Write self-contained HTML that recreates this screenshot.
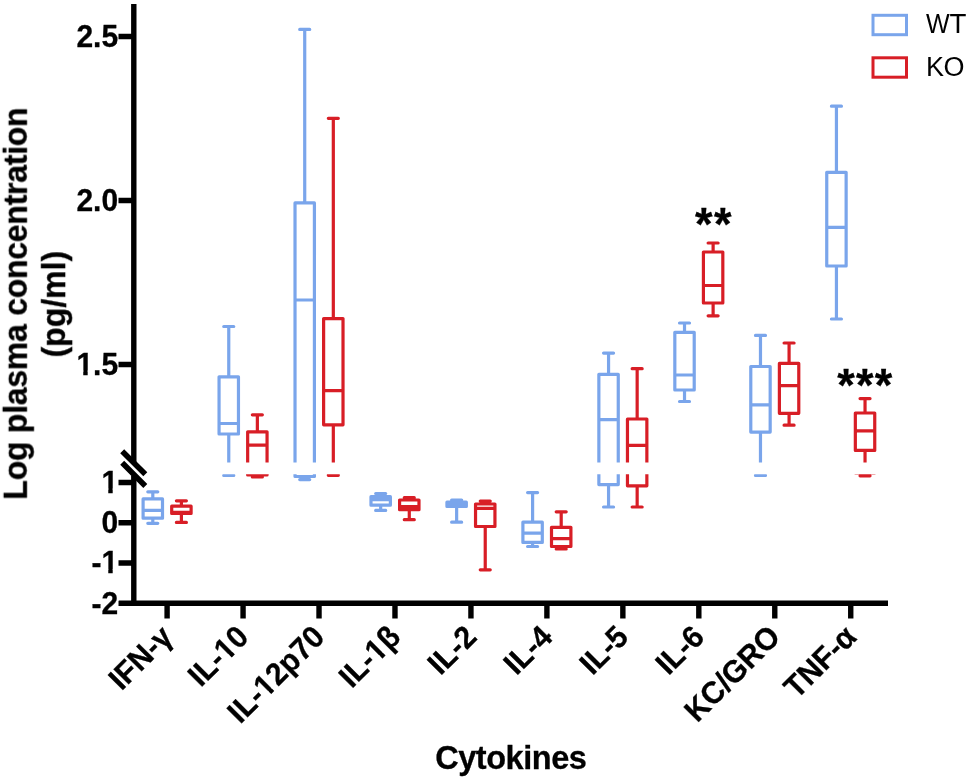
<!DOCTYPE html>
<html><head><meta charset="utf-8"><title>Cytokines</title><style>
html,body{margin:0;padding:0;background:#fff;}
svg{display:block;}
text{font-family:"Liberation Sans",sans-serif;font-kerning:none;}
text.b{font-weight:bold;stroke:#000;stroke-width:0.3px;}
text.r{font-weight:normal;}
</style></head><body>
<svg width="968" height="780" viewBox="0 0 968 780">
<defs>
<clipPath id="cu"><rect x="134" y="0" width="834" height="462.5"/></clipPath>
<clipPath id="cl"><rect x="134" y="474.2" width="834" height="130"/></clipPath>
</defs>
<rect width="968" height="780" fill="#fff"/>
<g fill="none" stroke-width="3.2" stroke-linecap="round" stroke-linejoin="round">
<g clip-path="url(#cu)"><path d="M152.80 605.01V662.79M152.80 819.87V861.38M147.80 605.01H157.80M147.80 861.38H157.80M143.10 755.58H162.50M143.10 662.79H162.50V819.87H143.10ZM228.76 326.50V376.80M228.76 434.00V472.34M223.76 326.50H233.76M223.76 472.34H233.76M219.06 423.50H238.46M219.06 376.80H238.46V434.00H219.06ZM304.72 29.40V202.90M304.72 480.48V505.71M299.72 29.40H309.72M299.72 505.71H309.72M295.02 300.00H314.42M295.02 202.90H314.42V480.48H295.02ZM380.68 618.84V644.89M380.68 714.07V756.39M375.68 618.84H385.68M375.68 756.39H385.68M370.98 668.49H390.38M370.98 644.89H390.38V714.07H370.98ZM456.64 671.75V689.65M456.64 723.83V852.43M451.64 671.75H461.64M451.64 852.43H461.64M446.94 706.74H466.34M446.94 689.65H466.34V723.83H446.94ZM532.60 611.52V852.43M532.60 1016.84V1050.21M527.60 611.52H537.60M527.60 1050.21H537.60M522.90 941.15H542.30M522.90 852.43H542.30V1016.84H522.90ZM608.56 353.10V374.30M608.56 546.41V728.72M603.56 353.10H613.56M603.56 728.72H613.56M598.86 419.70H618.26M598.86 374.30H618.26V546.41H598.86ZM684.52 323.00V332.30M684.52 390.00V401.50M679.52 323.00H689.52M679.52 401.50H689.52M674.82 375.00H694.22M674.82 332.30H694.22V390.00H674.82ZM760.48 335.40V366.50M760.48 432.10V472.34M755.48 335.40H765.48M755.48 472.34H765.48M750.78 404.80H770.18M750.78 366.50H770.18V432.10H750.78ZM836.44 106.20V172.30M836.44 266.00V319.00M831.44 106.20H841.44M831.44 319.00H841.44M826.74 227.30H846.14M826.74 172.30H846.14V266.00H826.74Z" stroke="#7AA5EB"/><path d="M181.40 678.26V722.21M181.40 780.81V854.06M176.40 678.26H186.40M176.40 854.06H186.40M171.70 771.85H191.10M171.70 722.21H191.10V780.81H171.70ZM257.36 414.80V431.80M257.36 468.27V484.55M252.36 414.80H262.36M252.36 484.55H262.36M247.66 445.20H267.06M247.66 431.80H267.06V468.27H247.66ZM333.32 118.30V318.60M333.32 424.80V470.71M328.32 118.30H338.32M328.32 470.71H338.32M323.62 390.60H343.02M323.62 318.60H343.02V424.80H323.62ZM409.28 653.03V671.75M409.28 750.69V832.08M404.28 653.03H414.28M404.28 832.08H414.28M399.58 725.46H418.98M399.58 671.75H418.98V750.69H399.58ZM485.24 679.88V704.30M485.24 887.43V1239.84M480.24 679.88H490.24M480.24 1239.84H490.24M475.54 740.11H494.94M475.54 704.30H494.94V887.43H475.54ZM561.20 767.79V893.94M561.20 1050.21V1070.55M556.20 767.79H566.20M556.20 1070.55H566.20M551.50 986.72H570.90M551.50 893.94H570.90V1050.21H551.50ZM637.16 368.70V419.00M637.16 556.17V728.72M632.16 368.70H642.16M632.16 728.72H642.16M627.46 445.40H646.86M627.46 419.00H646.86V556.17H627.46ZM713.12 243.00V252.00M713.12 303.00V315.80M708.12 243.00H718.12M708.12 315.80H718.12M703.42 285.50H722.82M703.42 252.00H722.82V303.00H703.42ZM789.08 343.00V363.40M789.08 413.30V425.20M784.08 343.00H794.08M784.08 425.20H794.08M779.38 385.60H798.78M779.38 363.40H798.78V413.30H779.38ZM865.04 398.60V413.00M865.04 450.40V474.78M860.04 398.60H870.04M860.04 474.78H870.04M855.34 430.80H874.74M855.34 413.00H874.74V450.40H855.34Z" stroke="#D81E26"/></g>
<g clip-path="url(#cl)"><path d="M152.80 491.80V498.90M152.80 518.20V523.30M147.80 491.80H157.80M147.80 523.30H157.80M143.10 510.30H162.50M143.10 498.90H162.50V518.20H143.10ZM228.76 457.58V463.76M228.76 470.79V475.50M223.76 457.58H233.76M223.76 475.50H233.76M219.06 469.50H238.46M219.06 463.76H238.46V470.79H219.06ZM304.72 421.08V442.39M304.72 476.50V479.60M299.72 421.08H309.72M299.72 479.60H309.72M295.02 454.33H314.42M295.02 442.39H314.42V476.50H295.02ZM380.68 493.50V496.70M380.68 505.20V510.40M375.68 493.50H385.68M375.68 510.40H385.68M370.98 499.60H390.38M370.98 496.70H390.38V505.20H370.98ZM456.64 500.00V502.20M456.64 506.40V522.20M451.64 500.00H461.64M451.64 522.20H461.64M446.94 504.30H466.34M446.94 502.20H466.34V506.40H446.94ZM532.60 492.60V522.20M532.60 542.40V546.50M527.60 492.60H537.60M527.60 546.50H537.60M522.90 533.10H542.30M522.90 522.20H542.30V542.40H522.90ZM608.56 460.85V463.45M608.56 484.60V507.00M603.56 460.85H613.56M603.56 507.00H613.56M598.86 469.03H618.26M598.86 463.45H618.26V484.60H598.86ZM684.52 457.15V458.29M684.52 465.38V466.80M679.52 457.15H689.52M679.52 466.80H689.52M674.82 463.54H694.22M674.82 458.29H694.22V465.38H674.82ZM760.48 458.67V462.50M760.48 470.56V475.50M755.48 458.67H765.48M755.48 475.50H765.48M750.78 467.20H770.18M750.78 462.50H770.18V470.56H750.78ZM836.44 430.51V438.64M836.44 450.15V456.66M831.44 430.51H841.44M831.44 456.66H841.44M826.74 445.39H846.14M826.74 438.64H846.14V450.15H826.74Z" stroke="#7AA5EB"/><path d="M181.40 500.80V506.20M181.40 513.40V522.40M176.40 500.80H186.40M176.40 522.40H186.40M171.70 512.30H191.10M171.70 506.20H191.10V513.40H171.70ZM257.36 468.43V470.52M257.36 475.00V477.00M252.36 468.43H262.36M252.36 477.00H262.36M247.66 472.17H267.06M247.66 470.52H267.06V475.00H247.66ZM333.32 432.00V456.61M333.32 469.66V475.30M328.32 432.00H338.32M328.32 475.30H338.32M323.62 465.46H343.02M323.62 456.61H343.02V469.66H323.62ZM409.28 497.70V500.00M409.28 509.70V519.70M404.28 497.70H414.28M404.28 519.70H414.28M399.58 506.60H418.98M399.58 500.00H418.98V509.70H399.58ZM485.24 501.00V504.00M485.24 526.50V569.80M480.24 501.00H490.24M480.24 569.80H490.24M475.54 508.40H494.94M475.54 504.00H494.94V526.50H475.54ZM561.20 511.80V527.30M561.20 546.50V549.00M556.20 511.80H566.20M556.20 549.00H566.20M551.50 538.70H570.90M551.50 527.30H570.90V546.50H551.50ZM637.16 462.77V468.95M637.16 485.80V507.00M632.16 462.77H642.16M632.16 507.00H642.16M627.46 472.19H646.86M627.46 468.95H646.86V485.80H627.46ZM713.12 447.32V448.43M713.12 454.69V456.27M708.12 447.32H718.12M708.12 456.27H718.12M703.42 452.54H722.82M703.42 448.43H722.82V454.69H703.42ZM789.08 459.61V462.11M789.08 468.25V469.71M784.08 459.61H794.08M784.08 469.71H794.08M779.38 464.84H798.78M779.38 462.11H798.78V468.25H779.38ZM865.04 466.44V468.21M865.04 472.80V475.80M860.04 466.44H870.04M860.04 475.80H870.04M855.34 470.40H874.74M855.34 468.21H874.74V472.80H855.34Z" stroke="#D81E26"/></g>
</g>
<g stroke="#000" stroke-width="5.4" fill="none">
<path d="M133.8 4V462M133.8 476V603M119 603.3H888M118.5 36.5H134M118.5 200.5H134M118.5 364.5H134M118.5 482.5H134M118.5 522.7H134M118.5 563H134M118.5 603.4H134M167.10 603V618.5M243.06 603V618.5M319.02 603V618.5M394.98 603V618.5M470.94 603V618.5M546.90 603V618.5M622.86 603V618.5M698.82 603V618.5M774.78 603V618.5M850.74 603V618.5"/>
</g>
<path d="M118 454.5L150 486.5" stroke="#fff" stroke-width="3" fill="none"/>
<path d="M122.2 451.2L145.3 474.3M122.2 462.8L145.3 485.9" stroke="#000" stroke-width="5.6" fill="none"/>
<g font-family="'Liberation Sans', sans-serif" fill="#000" opacity="0.999">
<text class="b" transform="translate(118.10,46.90) scale(1,1.04)" text-anchor="end" font-size="30">2.5</text>
<text class="b" transform="translate(118.10,210.90) scale(1,1.04)" text-anchor="end" font-size="30">2.0</text>
<text class="b" transform="translate(118.10,374.90) scale(1,1.04)" text-anchor="end" font-size="30">1.5</text>
<text class="b" transform="translate(118.10,492.90) scale(1,1.04)" text-anchor="end" font-size="30">1</text>
<text class="b" transform="translate(118.10,533.10) scale(1,1.04)" text-anchor="end" font-size="30">0</text>
<text class="b" transform="translate(118.10,573.40) scale(1,1.04)" text-anchor="end" font-size="30">-1</text>
<text class="b" transform="translate(118.10,613.80) scale(1,1.04)" text-anchor="end" font-size="30">-2</text>
<text class="b" transform="translate(174.40,638.60) rotate(-45) scale(1,1.04)" text-anchor="end" font-size="30">IFN-γ</text>
<text class="b" transform="translate(250.36,638.60) rotate(-45) scale(1,1.04)" text-anchor="end" font-size="30">IL-10</text>
<text class="b" transform="translate(326.32,638.60) rotate(-45) scale(1,1.04)" text-anchor="end" font-size="30">IL-12p70</text>
<text class="b" transform="translate(402.28,638.60) rotate(-45) scale(1,1.04)" text-anchor="end" font-size="30">IL-1β</text>
<text class="b" transform="translate(478.24,638.60) rotate(-45) scale(1,1.04)" text-anchor="end" font-size="30">IL-2</text>
<text class="b" transform="translate(554.20,638.60) rotate(-45) scale(1,1.04)" text-anchor="end" font-size="30">IL-4</text>
<text class="b" transform="translate(630.16,638.60) rotate(-45) scale(1,1.04)" text-anchor="end" font-size="30">IL-5</text>
<text class="b" transform="translate(706.12,638.60) rotate(-45) scale(1,1.04)" text-anchor="end" font-size="30">IL-6</text>
<text class="b" transform="translate(782.08,638.60) rotate(-45) scale(1,1.04)" text-anchor="end" font-size="30">KC/GRO</text>
<text class="b" transform="translate(858.04,638.60) rotate(-45) scale(1,1.04)" text-anchor="end" font-size="30">TNF-α</text>
<text class="b" transform="translate(27.00,303.50) rotate(-90) scale(1,1.04)" x="-0.12" text-anchor="middle" letter-spacing="-0.25" font-size="32">Log plasma concentration</text>
<text class="b" transform="translate(65.30,304.20) rotate(-90) scale(1,1.04)" text-anchor="middle" font-size="32">(pg/ml)</text>
<text class="b" transform="translate(511.00,769.00) scale(1,1.04)" x="-0.23" text-anchor="middle" letter-spacing="-0.45" font-size="32.5">Cytokines</text>
<text class="b" transform="translate(695.10,239.90) scale(1,1.04)" letter-spacing="1.3" font-size="45">**</text>
<text class="b" transform="translate(837.20,400.90) scale(1,1.04)" letter-spacing="1.3" font-size="45">***</text>
<text class="r" transform="translate(926.09,33.40) scale(0.906,1)" font-size="27.7">W</text>
<text class="r" transform="translate(949.58,33.40)" font-size="27.7">T</text>
<text class="r" transform="translate(926.00,75.70)" letter-spacing="-0.6" font-size="27">KO</text>
</g>
<g fill="#fff"><g transform="translate(118.10,374.90) scale(0.014648,0.015234)"><rect x="-2792" y="-290" width="413" height="375"/><rect x="-2077" y="-290" width="385" height="375"/></g><g transform="translate(118.10,492.90) scale(0.014648,0.015234)"><rect x="-1084" y="-290" width="413" height="375"/><rect x="-369" y="-290" width="385" height="375"/></g><g transform="translate(118.10,573.40) scale(0.014648,0.015234)"><rect x="-1084" y="-290" width="413" height="375"/><rect x="-369" y="-290" width="385" height="375"/></g><g transform="translate(250.36,638.60) rotate(-45) scale(0.014648,0.015234)"><rect x="-2223" y="-290" width="413" height="375"/><rect x="-1508" y="-290" width="385" height="375"/></g><g transform="translate(326.32,638.60) rotate(-45) scale(0.014648,0.015234)"><rect x="-5752" y="-290" width="413" height="375"/><rect x="-5037" y="-290" width="385" height="375"/></g><g transform="translate(402.28,638.60) rotate(-45) scale(0.014648,0.015234)"><rect x="-2334" y="-290" width="413" height="375"/><rect x="-1619" y="-290" width="385" height="375"/></g></g>
<rect x="873" y="15.3" width="33.5" height="19.4" fill="none" stroke="#7AA5EB" stroke-width="3"/>
<rect x="873" y="57.8" width="33.5" height="19.4" fill="none" stroke="#D81E26" stroke-width="3"/>
</svg>
</body></html>
